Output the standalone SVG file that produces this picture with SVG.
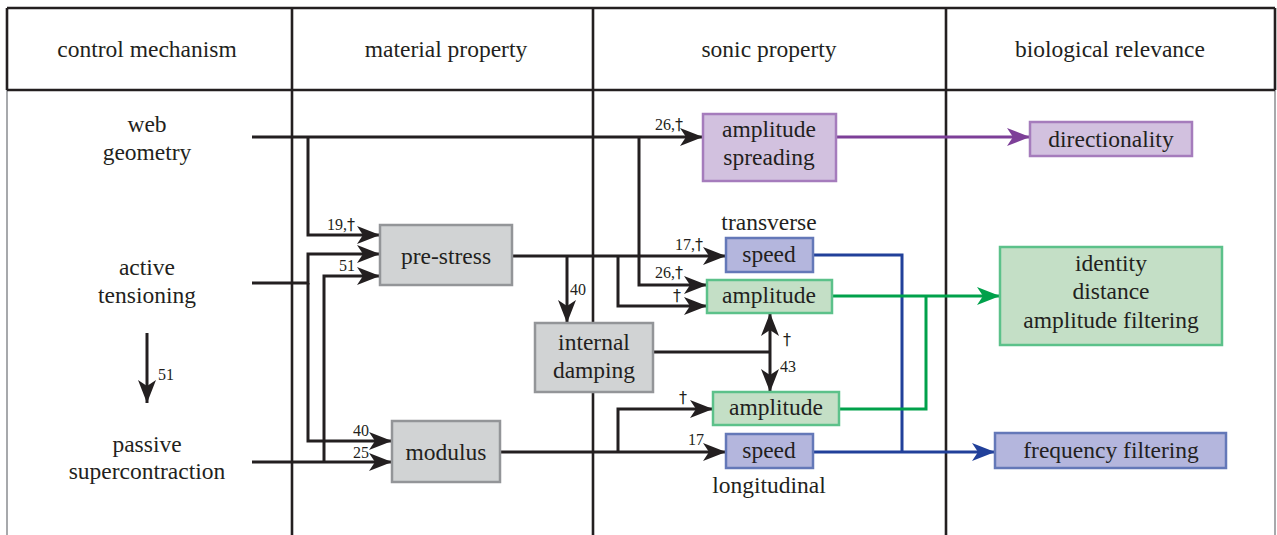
<svg xmlns="http://www.w3.org/2000/svg" width="1277" height="535" viewBox="0 0 1277 535" font-family="'Liberation Serif', 'DejaVu Serif', serif">
<defs>
<style>
text{font-family:'Liberation Serif','DejaVu Serif',serif;fill:#231f20;}
.t{font-size:23.5px;text-anchor:middle;}
.s{font-size:16px;text-anchor:end;}
.sl{font-size:16px;text-anchor:start;}
.d{font-family:'DejaVu Sans','Liberation Sans','Noto Sans',sans-serif;fill:#231f20;}
.grid{stroke:#231f20;stroke-width:2.6;fill:none;}
.side{stroke:#a7a9ac;stroke-width:2;fill:none;}
.k{stroke:#231f20;stroke-width:3;fill:none;}
.pu{stroke:#7d3f98;stroke-width:3;fill:none;}
.bl{stroke:#21409a;stroke-width:3;fill:none;}
.gr{stroke:#00a14b;stroke-width:3;fill:none;}
.gray{fill:#d1d3d4;stroke:#939598;stroke-width:2.5;}
.purp{fill:#d2c1df;stroke:#a57cbc;stroke-width:2.5;}
.blue{fill:#b4b6dd;stroke:#6478b8;stroke-width:2.5;}
.green{fill:#c4dfc6;stroke:#5cc18a;stroke-width:2.5;}
</style>
<marker id="ak" markerUnits="userSpaceOnUse" markerWidth="24" markerHeight="18" refX="23" refY="9" orient="auto" viewBox="0 0 24 18"><path d="M0,0 L23,9 L0,18 L6,9 Z" fill="#231f20"/></marker>
<marker id="ap" markerUnits="userSpaceOnUse" markerWidth="24" markerHeight="18" refX="23" refY="9" orient="auto" viewBox="0 0 24 18"><path d="M0,0 L23,9 L0,18 L6,9 Z" fill="#7d3f98"/></marker>
<marker id="ab" markerUnits="userSpaceOnUse" markerWidth="24" markerHeight="18" refX="23" refY="9" orient="auto" viewBox="0 0 24 18"><path d="M0,0 L23,9 L0,18 L6,9 Z" fill="#21409a"/></marker>
<marker id="ag" markerUnits="userSpaceOnUse" markerWidth="24" markerHeight="18" refX="23" refY="9" orient="auto" viewBox="0 0 24 18"><path d="M0,0 L23,9 L0,18 L6,9 Z" fill="#00a14b"/></marker>
</defs>
<rect width="1277" height="535" fill="#ffffff"/>
<g id="table">
<path class="side" d="M7,90 V535 M1275,90 V535"/>
<path class="grid" d="M7,8 H1275 M7,90 H1275 M7,8 V90 M1275,8 V90 M292,8 V535 M593,8 V535 M946,8 V535"/>
<text class="t" x="147" y="57">control mechanism</text>
<text class="t" x="446" y="57">material property</text>
<text class="t" x="769" y="57">sonic property</text>
<text class="t" x="1110" y="57">biological relevance</text>
</g>
<g id="connectors">
<path class="k" d="M252,137 H703" marker-end="url(#ak)"/>
<path class="k" d="M308,137 V235 H380" marker-end="url(#ak)"/>
<path class="k" d="M639,137 V285 H707" marker-end="url(#ak)"/>
<path class="k" d="M252,283 H308 V254 H380" marker-end="url(#ak)"/>
<path class="k" d="M308,283 V441 H392" marker-end="url(#ak)"/>
<path class="k" d="M252,462 H392" marker-end="url(#ak)"/>
<path class="k" d="M324,462 V276 H380" marker-end="url(#ak)"/>
<path class="k" d="M512,256 H726" marker-end="url(#ak)"/>
<path class="k" d="M567,256 V323" marker-end="url(#ak)"/>
<path class="k" d="M618,256 V306 H707" marker-end="url(#ak)"/>
<path class="k" d="M653,352 H770"/>
<path class="k" d="M770,352 V313" marker-end="url(#ak)"/>
<path class="k" d="M770,352 V392" marker-end="url(#ak)"/>
<path class="k" d="M500,452 H726" marker-end="url(#ak)"/>
<path class="k" d="M618,452 V409 H713" marker-end="url(#ak)"/>
<path class="k" d="M147,333 V403" marker-end="url(#ak)"/>
<path class="pu" d="M836,137 H1030" marker-end="url(#ap)"/>
<path class="bl" d="M813,255 H902 V452"/>
<path class="bl" d="M813,452 H995" marker-end="url(#ab)"/>
<path class="gr" d="M832,296 H1000" marker-end="url(#ag)"/>
<path class="gr" d="M839,409 H926 V296"/>
<text class="s" x="683" y="130">26,<tspan class="d">†</tspan></text>
<text class="s" x="355" y="230">19,<tspan class="d">†</tspan></text>
<text class="s" x="683" y="278">26,<tspan class="d">†</tspan></text>
<text class="s" x="355" y="271">51</text>
<text class="s" x="369" y="436">40</text>
<text class="s" x="369" y="458">25</text>
<text class="s" x="703" y="250">17,<tspan class="d">†</tspan></text>
<text class="sl" x="570" y="295">40</text>
<text class="s d" x="681" y="301">†</text>
<text class="sl d" x="783" y="345">†</text>
<text class="sl" x="780" y="372">43</text>
<text class="s" x="704" y="445">17</text>
<text class="s d" x="687" y="403">†</text>
<text class="sl" x="158" y="380">51</text>
</g>
<g id="control">
<text class="t" x="147" y="132">web</text>
<text class="t" x="147" y="160">geometry</text>
<text class="t" x="147" y="275">active</text>
<text class="t" x="147" y="303">tensioning</text>
<text class="t" x="147" y="452">passive</text>
<text class="t" x="147" y="479">supercontraction</text>
</g>
<g id="prestress"><rect class="gray" x="380" y="225" width="132" height="60"/><text class="t" x="446" y="264">pre-stress</text></g>
<g id="modulus"><rect class="gray" x="392" y="421" width="108" height="61"/><text class="t" x="446" y="460">modulus</text></g>
<g id="damping"><rect class="gray" x="535" y="323" width="118" height="69"/><text class="t" x="594" y="350">internal</text><text class="t" x="594" y="378">damping</text></g>
<g id="spreading"><rect class="purp" x="703" y="114" width="133" height="67"/><text class="t" x="769" y="137">amplitude</text><text class="t" x="769" y="165">spreading</text></g>
<g id="directionality"><rect class="purp" x="1030" y="122" width="162" height="34"/><text class="t" x="1111" y="147">directionality</text></g>
<g id="speedT"><text class="t" x="769" y="230">transverse</text><rect class="blue" x="726" y="238" width="87" height="34"/><text class="t" x="769" y="262">speed</text></g>
<g id="ampUpper"><rect class="green" x="707" y="280" width="125" height="33"/><text class="t" x="769" y="303">amplitude</text></g>
<g id="ampLower"><rect class="green" x="713" y="392" width="126" height="33"/><text class="t" x="776" y="415">amplitude</text></g>
<g id="speedL"><rect class="blue" x="726" y="434" width="87" height="34"/><text class="t" x="769" y="458">speed</text><text class="t" x="769" y="493">longitudinal</text></g>
<g id="identity"><rect class="green" x="1000" y="247" width="222" height="98"/><text class="t" x="1111" y="271">identity</text><text class="t" x="1111" y="299">distance</text><text class="t" x="1111" y="328">amplitude filtering</text></g>
<g id="frequency"><rect class="blue" x="995" y="433" width="231" height="35"/><text class="t" x="1111" y="458">frequency filtering</text></g>
</svg>
